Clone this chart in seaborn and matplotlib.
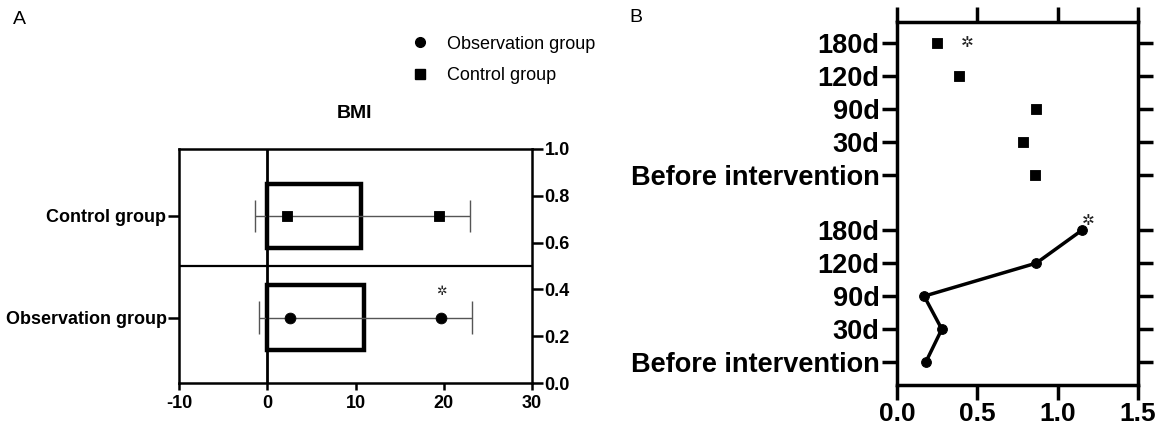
import numpy as np
import pandas as pd
import matplotlib
matplotlib.use("Agg")
import matplotlib.pyplot as plt
from matplotlib.lines import Line2D
import seaborn as sns

# ---------------- data ----------------
# Panel A (BMI)
groups = ["Control group", "Observation group"]
bar_values = [10.6, 11.0]
point_low = [2.2, 2.6]
point_high = [19.5, 19.7]
err_low = [-1.4, -0.9]
err_high = [23.0, 23.2]
right_ticks = [0.0, 0.2, 0.4, 0.6, 0.8, 1.0]
a_xticks = [-10, 0, 10, 20, 30]

# Panel B
timepoints = ["Before intervention", "30d", "90d", "120d", "180d"]
control_vals = [0.862, 0.784, 0.867, 0.386, 0.250]
observation_vals = [0.179, 0.279, 0.169, 0.867, 1.152]
b_xticks = [0.0, 0.5, 1.0, 1.5]

# ---------------- layout ----------------
group_pos = [0.714, 0.279]
lower_pos = [0, 1, 2, 3, 4]
upper_pos = [p + 5.67 for p in lower_pos]

sns.set_theme(style="white")
plt.rcParams["font.family"] = ["Liberation Sans", "DejaVu Sans"]
plt.rcParams["text.color"] = "black"
plt.rcParams["xtick.color"] = "black"
plt.rcParams["ytick.color"] = "black"
plt.rcParams["axes.labelcolor"] = "black"

W, H = 1163, 433
fig = plt.figure(figsize=(W / 100, H / 100), dpi=100)

def fx(px):
    return px / W

def fy(py):
    return 1 - py / H

# ---------------- Panel A ----------------
axA = fig.add_axes([fx(179), fy(383), fx(532) - fx(179), fy(149) - fy(383)])
dfA = pd.DataFrame({"group": groups, "value": bar_values, "pos": group_pos})
sns.barplot(data=dfA, x="value", y="pos", orient="y", native_scale=True,
            width=0.636, color="white", edgecolor="black", linewidth=3.2,
            ax=axA, zorder=2)
# error bars
for yv, lo, hi in zip(group_pos, err_low, err_high):
    axA.hlines(yv, lo, hi, color="#555555", lw=1.0, zorder=3)
    axA.vlines([lo, hi], yv - 0.07, yv + 0.07, color="#555555", lw=1.0, zorder=3)
# points
dfC = pd.DataFrame({"x": [point_low[0], point_high[0]], "y": [group_pos[0]] * 2})
dfO = pd.DataFrame({"x": [point_low[1], point_high[1]], "y": [group_pos[1]] * 2})
sns.scatterplot(data=dfC, x="x", y="y", marker="s", s=60, color="black",
                edgecolor="black", ax=axA, zorder=4)
sns.scatterplot(data=dfO, x="x", y="y", marker="o", s=60, color="black",
                edgecolor="black", ax=axA, zorder=4)
axA.text(point_high[1], group_pos[1] + 0.11, "\u2732", ha="center", va="center",
         fontsize=9, family="DejaVu Sans", color="#222222")

axA.axvline(0, color="black", lw=2.0, zorder=5)
axA.axhline(0.5, color="black", lw=1.6, zorder=1)
axA.set_xlim(-10, 30)
axA.set_ylim(0, 1)
axA.set_xticks(a_xticks)
axA.set_xticklabels([str(t) for t in a_xticks], fontweight="bold", fontsize=13)
axA.set_yticks(group_pos)
axA.set_yticklabels(groups, fontweight="bold", fontsize=13)
axA.set_xlabel("")
axA.set_ylabel("")
for sp in axA.spines.values():
    sp.set_visible(True)
    sp.set_linewidth(1.8)
    sp.set_color("black")
axA.tick_params(axis="y", direction="out", length=8, width=1.8, left=True, pad=1)
axA.tick_params(axis="x", direction="out", length=5, width=1.8, bottom=True, pad=4)

twA = axA.twinx()
twA.set_ylim(0, 1)
twA.set_yticks(right_ticks)
twA.set_yticklabels([f"{t:.1f}" for t in right_ticks], fontweight="bold", fontsize=13)
twA.tick_params(axis="y", direction="out", length=8, width=1.8, right=True, pad=1)
for sp in twA.spines.values():
    sp.set_visible(False)
twA.grid(False)
axA.grid(False)

fig.text(fx(355), fy(113), "BMI", ha="center", va="center", fontweight="bold", fontsize=14)

handles = [Line2D([], [], marker="o", color="black", linestyle="none", markersize=7),
           Line2D([], [], marker="s", color="black", linestyle="none", markersize=7)]
fig.legend(handles, ["Observation group", "Control group"], loc="center left",
           bbox_to_anchor=(fx(402), fy(60)), frameon=False, fontsize=13,
           handlelength=1.0, handletextpad=1.0, labelspacing=0.8, borderpad=0)

fig.text(fx(13), fy(20), "A", ha="left", va="center", fontsize=14)
fig.text(fx(629), fy(18), "B", ha="left", va="center", fontsize=14)

# ---------------- Panel B ----------------
axB = fig.add_axes([fx(897), fy(385), fx(1138) - fx(897), fy(22) - fy(385)])
dfBo = pd.DataFrame({"x": observation_vals, "y": lower_pos})
dfBc = pd.DataFrame({"x": control_vals, "y": upper_pos})
sns.lineplot(data=dfBo, x="x", y="y", sort=False, estimator=None, color="black",
             lw=2.5, marker="o", markersize=7, markeredgecolor="black", ax=axB)
sns.scatterplot(data=dfBc, x="x", y="y", marker="s", s=60, color="black",
                edgecolor="black", ax=axB, zorder=4)
axB.text(control_vals[4] + 0.19, upper_pos[4], "\u2732", ha="center", va="center",
         fontsize=11, family="DejaVu Sans", color="#222222")
axB.text(observation_vals[4] + 0.04, lower_pos[4] + 0.3, "\u2732", ha="center", va="center",
         fontsize=11, family="DejaVu Sans", color="#222222")

axB.set_xlim(0, 1.5)
axB.set_ylim(-0.69, 10.3)
axB.set_xticks(b_xticks)
axB.set_xticklabels([f"{t:.1f}" for t in b_xticks], fontweight="bold", fontsize=19)
axB.set_yticks(lower_pos + upper_pos)
axB.set_yticklabels(timepoints + timepoints, fontweight="bold", fontsize=19.5)
axB.set_xlabel("")
axB.set_ylabel("")
for sp in axB.spines.values():
    sp.set_visible(True)
    sp.set_linewidth(2.5)
    sp.set_color("black")
axB.tick_params(axis="both", direction="out", length=10.5, width=2.5,
                left=True, right=True, top=True, bottom=True,
                labelleft=True, labelright=False, labeltop=False, labelbottom=True, pad=2)
axB.grid(False)

fig.savefig("out.png", dpi=100)
